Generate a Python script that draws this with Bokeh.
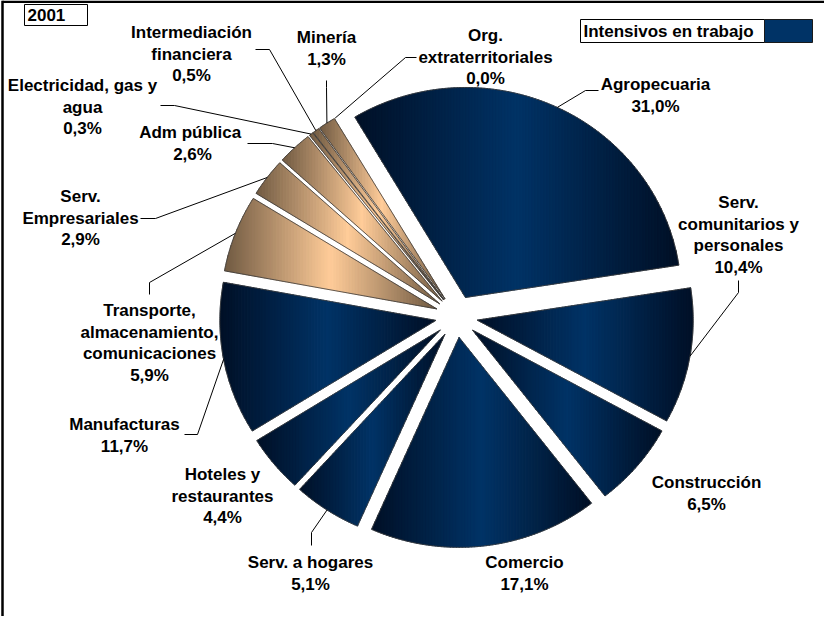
import numpy as np
from bokeh.plotting import figure
from bokeh.models import Range1d, ColumnDataSource
from bokeh.core.properties import value
from bokeh.embed import file_html
from bokeh.resources import INLINE

# ---------------- data ----------------
categories = ["Agropecuaria", "Serv.\ncomunitarios y\npersonales", "Construcción", "Comercio",
              "Serv. a hogares", "Hoteles y\nrestaurantes", "Manufacturas",
              "Transporte,\nalmacenamiento,\ncomunicaciones", "Serv.\nEmpresariales",
              "Adm  pública", "Electricidad, gas y\nagua", "Intermediación\nfinanciera",
              "Minería", "Org.\nextraterritoriales"]
shares = [31.0, 10.4, 6.5, 17.1, 5.1, 4.4, 11.7, 5.9, 2.9, 2.6, 0.3, 0.5, 1.3, 0.0]
labor_intensive = [True, True, True, True, True, True, True,
                   False, False, False, False, False, False, False]
year_label = "2001"
legend_label = "Intensivos en trabajo"

# ---------------- layout (page pixels) ----------------
W, H = 824, 616
OX, OY = 8, 8
CX, CY = 464, 324
RX, RY = 216, 210
EXPLODE = 21
START = -30.8          # degrees clockwise from 12 o'clock
LINE_H = 21.5
FONT = value("Liberation Sans")
FSIZE = "17px"

label_pos = [(663, 92), (746, 210), (714, 490), (532, 570), (318, 570), (230, 482),
             (132, 432), (157, 318), (88, 204), (200, 140), (90, 93), (199, 40),
             (334, 45), (493, 43)]
leader_pts = {0: [(606, 98), (593, 98)], 1: [(746, 288), (746, 300)],
              4: [(319, 553), (319, 540)], 6: [(192, 442), (205, 442)],
              7: [(157, 302), (157, 290)], 8: [(148, 226), (163, 226)],
              9: [(255, 151), (280, 151)], 10: [(168, 113), (182, 113)],
              11: [(263, 57), (277, 57)], 12: [(334, 88), (334, 95)],
              13: [(424, 65), (413, 65)]}

NAVY_L, NAVY_D = np.array([0, 51, 102]), np.array([0, 16, 38])
PEACH_L, PEACH_D = np.array([255, 204, 153]), np.array([112, 90, 66])


def dy(sy):
    return -sy


def hexc(c):
    c = np.clip(np.round(c), 0, 255).astype(int)
    return "#%02x%02x%02x" % tuple(c)


def clip(poly, a, b):
    def half(pts, keep, xv):
        out = []
        n = len(pts)
        for i in range(n):
            P, Q = pts[i], pts[(i + 1) % n]
            pin, qin = keep(P), keep(Q)
            if pin:
                out.append(P)
            if pin != qin:
                t = (xv - P[0]) / (Q[0] - P[0])
                out.append((xv, P[1] + t * (Q[1] - P[1])))
        return out
    pts = half(poly, lambda q: q[0] >= a, a)
    if len(pts) < 3:
        return []
    pts = half(pts, lambda q: q[0] <= b, b)
    return pts if len(pts) >= 3 else []


p = figure(width=W, height=H, x_range=Range1d(OX, OX + W), y_range=Range1d(-(OY + H), -OY),
           output_backend="svg", toolbar_location=None, min_border=0,
           x_axis_location=None, y_axis_location=None)
p.grid.visible = False
p.outline_line_color = None
p.background_fill_color = "white"
p.border_fill_color = "white"

total = float(sum(shares))
angles = np.array(shares) / total * 360.0
starts = START + np.concatenate([[0], np.cumsum(angles)[:-1]])

strip_xs, strip_ys, strip_cols = [], [], []
out_xs, out_ys = [], []
mid_pts = []
for i, (a0, span) in enumerate(zip(starts, angles)):
    mid = np.radians(a0 + span / 2)
    ax = CX + EXPLODE * np.sin(mid)
    ay = CY - EXPLODE * np.cos(mid)
    mid_pts.append((ax + RX * np.sin(mid), ay - RY * np.cos(mid)))
    if span <= 0:
        continue
    th = np.radians(np.linspace(a0, a0 + span, max(3, int(span * 2) + 2)))
    px = ax + RX * np.sin(th)
    py = ay - RY * np.cos(th)
    poly = [(ax, ay)] + list(zip(px, py))
    xs = [q[0] for q in poly]
    ys = [q[1] for q in poly]
    out_xs.append(xs)
    out_ys.append([dy(v) for v in ys])
    light, dark = (NAVY_L, NAVY_D) if labor_intensive[i] else (PEACH_L, PEACH_D)
    xmin, xmax = min(xs), max(xs)
    n = max(3, int((xmax - xmin) / 3))
    edges = np.linspace(xmin, xmax, n + 1)
    for k in range(n):
        seg = clip(poly, edges[k], edges[k + 1] + 0.6)
        if not seg:
            continue
        t = ((edges[k] + edges[k + 1]) / 2 - xmin) / (xmax - xmin)
        f = 1 - abs(2 * t - 1)
        strip_xs.append([q[0] for q in seg])
        strip_ys.append([dy(q[1]) for q in seg])
        strip_cols.append(hexc(dark + (light - dark) * f))

p.patches(xs="xs", ys="ys", fill_color="c", line_color="c", line_width=0.6,
          source=ColumnDataSource(dict(xs=strip_xs, ys=strip_ys, c=strip_cols)))
p.patches(xs=out_xs, ys=out_ys, fill_color=None, line_color="#3a3a3a", line_width=0.8)

# leader lines
for i, pts in leader_pts.items():
    lx = [pts[0][0], pts[1][0], mid_pts[i][0]]
    ly = [dy(pts[0][1]), dy(pts[1][1]), dy(mid_pts[i][1])]
    p.line(lx, ly, line_color="black", line_width=1)

# labels
tx, ty, tt = [], [], []
for i, name in enumerate(categories):
    lines = name.split("\n") + [("%.1f" % shares[i]).replace(".", ",") + "%"]
    x0, y0 = label_pos[i]
    for k, ln in enumerate(lines):
        tx.append(x0)
        ty.append(dy(y0 + k * LINE_H))
        tt.append(ln)
p.text(x=tx, y=ty, text=tt, text_font=FONT, text_font_style="bold", text_font_size=FSIZE,
       text_align="center", text_baseline="middle", text_color="black")

# chart border (left and top)
p.line([10, 10], [dy(OY), dy(OY + H)], line_color="black", line_width=2.5)
p.line([10, OX + W], [dy(9.2), dy(9.2)], line_color="black", line_width=2.5)

# year box
p.quad(left=[32], right=[95], top=[dy(12)], bottom=[dy(33)], fill_color="white",
       line_color="black", line_width=1)
p.text(x=[35], y=[dy(22.5)], text=[year_label], text_font=FONT, text_font_style="bold",
       text_font_size=FSIZE, text_align="left", text_baseline="middle", text_color="black")

# legend box
p.quad(left=[588], right=[772], top=[dy(27)], bottom=[dy(50)], fill_color="white",
       line_color="black", line_width=1)
p.quad(left=[772], right=[820], top=[dy(27)], bottom=[dy(50)], fill_color="#003366",
       line_color="#1a1a1a", line_width=1)
p.text(x=[591], y=[dy(38.5)], text=[legend_label], text_font=FONT, text_font_style="bold",
       text_font_size=FSIZE, text_align="left", text_baseline="middle", text_color="black")

open("out.html", "w").write(file_html(p, INLINE))
